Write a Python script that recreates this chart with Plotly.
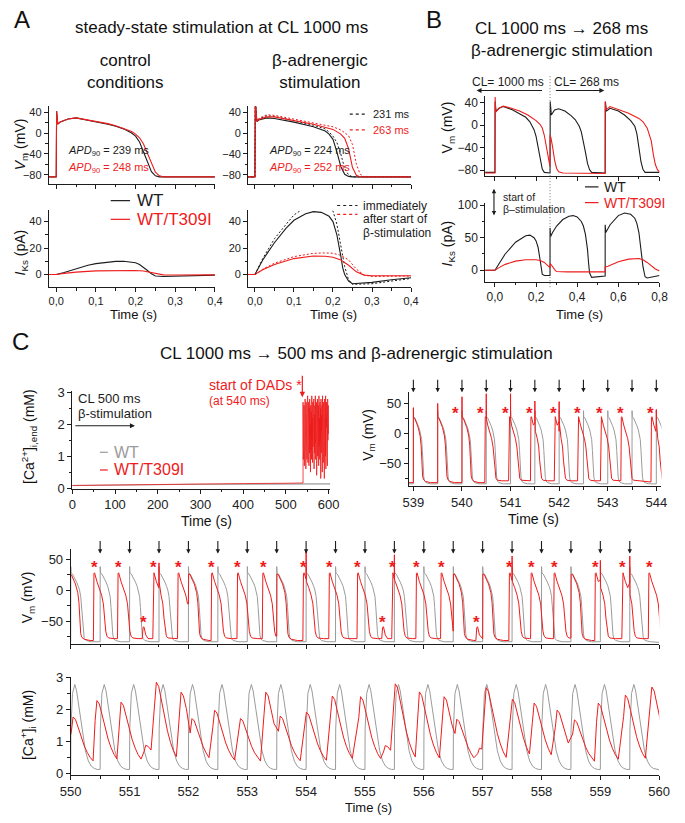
import plotly.graph_objects as go

W, H = 685, 823
FONT = 'Liberation Sans, Arial, sans-serif'
BLACK = '#1c1c1c'
RED = '#ee1c1c'
GRAY = '#9b9b9b'

# ================= Panel A : steady state, CL 1000 ms =================
a_ctl_wt_t = [-0.02, 0.0, 0.001, 0.004, 0.01, 0.03, 0.05, 0.08, 0.10, 0.13, 0.15, 0.17, 0.19, 0.20, 0.21, 0.22, 0.23, 0.24, 0.25, 0.26, 0.40]
a_ctl_wt_v = [-84, -84, 42, 17, 21, 27, 29, 25, 22, 17, 13, 8, 0, -6, -17, -35, -56, -74, -82, -84, -84]
a_ctl_mut_t = [-0.02, 0.0, 0.001, 0.004, 0.01, 0.03, 0.05, 0.08, 0.10, 0.13, 0.15, 0.17, 0.19, 0.20, 0.21, 0.22, 0.23, 0.24, 0.25, 0.26, 0.27, 0.40]
a_ctl_mut_v = [-84, -84, 42, 17, 21, 27, 29, 25, 22, 18, 14, 9, 3, -2, -9, -21, -38, -58, -75, -82, -84, -84]

a_b_wt_t = [-0.02, 0.0, 0.001, 0.005, 0.01, 0.03, 0.05, 0.10, 0.15, 0.18, 0.19, 0.20, 0.21, 0.22, 0.23, 0.24, 0.25, 0.40]
a_b_wt_v = [-84, -84, 60, 22, 25, 29, 28, 21, 12, 4, -2, -12, -36, -64, -79, -83, -84, -84]
a_b_wt0_t = [-0.02, 0.0, 0.001, 0.005, 0.01, 0.03, 0.05, 0.10, 0.15, 0.18, 0.19, 0.20, 0.21, 0.22, 0.23, 0.24, 0.25, 0.40]
a_b_wt0_v = [-84, -84, 60, 23, 27, 33, 32, 24, 15, 8, 2, -6, -18, -40, -68, -80, -84, -84]
a_b_mut_t = [-0.02, 0.0, 0.001, 0.005, 0.01, 0.03, 0.05, 0.10, 0.15, 0.20, 0.22, 0.23, 0.24, 0.25, 0.26, 0.27, 0.40]
a_b_mut_v = [-84, -84, 60, 22, 26, 31, 31, 24, 17, 7, -2, -10, -30, -66, -81, -84, -84]
a_b_mut0_t = [-0.02, 0.0, 0.001, 0.005, 0.01, 0.03, 0.05, 0.10, 0.15, 0.20, 0.22, 0.24, 0.25, 0.26, 0.27, 0.28, 0.40]
a_b_mut0_v = [-84, -84, 60, 23, 28, 35, 34, 27, 20, 12, 6, -5, -22, -60, -79, -84, -84]

a_ik_ctl_wt_t = [-0.02, 0.0, 0.02, 0.05, 0.08, 0.10, 0.13, 0.15, 0.17, 0.19, 0.20, 0.21, 0.22, 0.23, 0.24, 0.25, 0.27, 0.30, 0.35, 0.40]
a_ik_ctl_wt_v = [0, 0, 1.5, 4.5, 7, 8.2, 9.4, 9.9, 10, 9.5, 8.8, 7.5, 5.5, 3, 0.5, -1.2, -1.5, -1.2, -0.8, -0.5]
a_ik_ctl_mut_t = [-0.02, 0.0, 0.02, 0.05, 0.10, 0.15, 0.20, 0.22, 0.24, 0.25, 0.27, 0.30, 0.40]
a_ik_ctl_mut_v = [0, 0, 0.8, 1.8, 2.7, 3.1, 3.0, 2.6, 1.5, 0.5, -0.3, -0.4, -0.3]

a_ik_b_wt_t = [-0.02, 0.0, 0.02, 0.05, 0.08, 0.10, 0.13, 0.15, 0.17, 0.19, 0.20, 0.21, 0.22, 0.225, 0.23, 0.24, 0.25, 0.30, 0.35, 0.40]
a_ik_b_wt_v = [0, 0, 11, 24, 35, 41, 46, 47.5, 47, 44, 40, 30, 14, 5, 0, -5, -7, -6, -4, -2.5]
a_ik_b_wt0_v = [0, 0, 12, 27, 38, 45, 51, 53.5, 54, 52, 48, 38, 22, 13, 6, -4, -7.5, -7, -5, -3]
a_ik_b_mut_t = [-0.02, 0.0, 0.02, 0.05, 0.10, 0.15, 0.18, 0.20, 0.22, 0.24, 0.26, 0.28, 0.30, 0.40]
a_ik_b_mut_v = [0, 0, 3.5, 7.5, 12, 14, 13.8, 13, 11, 7, 2, -0.5, -1, -1]
a_ik_b_mut0_v = [0, 0, 4, 8.5, 13.5, 16, 16.3, 16, 14.5, 11, 4, -0.5, -1.5, -1.2]

# ================= Panel B : CL 1000 -> 268 ms =================
b_wt_t = [-0.05, 0.0, 0.001, 0.005, 0.02, 0.04, 0.08, 0.12, 0.15, 0.17, 0.18, 0.19, 0.20, 0.21, 0.22, 0.23, 0.24, 0.2679, 0.268, 0.269,
          0.274, 0.29, 0.31, 0.34, 0.37, 0.39, 0.40, 0.41, 0.42, 0.43, 0.44, 0.45, 0.46, 0.47, 0.5359, 0.536, 0.537, 0.542, 0.56, 0.60,
          0.63, 0.66, 0.68, 0.69, 0.70, 0.71, 0.72, 0.73, 0.80]
b_wt_v = [-84, -84, 42, 25, 30, 33, 28, 20, 14, 6, 0, -8, -20, -38, -62, -78, -84, -85, -85, 42,
          18, 27, 29, 25, 17, 10, 5, -2, -12, -28, -48, -68, -79, -84, -85, -85, 42, 25, 30, 25,
          18, 8, -2, -15, -40, -65, -79, -84, -84]
b_mut_t = [-0.05, 0.0, 0.001, 0.004, 0.02, 0.04, 0.08, 0.12, 0.16, 0.20, 0.22, 0.23, 0.24, 0.25, 0.26, 0.2679, 0.268, 0.272, 0.28, 0.29,
           0.30, 0.31, 0.33, 0.5359, 0.536, 0.54, 0.56, 0.60, 0.65, 0.70, 0.72, 0.74, 0.76, 0.77, 0.78, 0.79, 0.80]
b_mut_v = [-85, -85, 50, 23, 30, 34, 30, 25, 18, 8, 1, -5, -18, -38, -62, -74, -18, -22, -38, -62,
           -77, -83, -85, -86, 42, 27, 33, 28, 21, 12, 6, -5, -28, -52, -70, -79, -83]
b_ik_wt_t = [-0.05, 0.0, 0.02, 0.05, 0.10, 0.15, 0.17, 0.19, 0.20, 0.21, 0.22, 0.225, 0.23, 0.24, 0.2679, 0.268, 0.271, 0.28, 0.30, 0.33,
             0.36, 0.38, 0.40, 0.42, 0.43, 0.44, 0.45, 0.455, 0.46, 0.47, 0.50, 0.5359, 0.536, 0.539, 0.56, 0.60, 0.63, 0.66, 0.68, 0.69,
             0.70, 0.71, 0.72, 0.73, 0.74, 0.80]
b_ik_wt_v = [0, 0, 10, 25, 43, 53, 54, 50, 45, 35, 15, 3, -6, -8, -8, 65, 52, 58, 68, 78,
             83, 84, 82, 75, 68, 55, 32, 12, -4, -11, -10, -9, 70, 58, 70, 84, 88, 86, 80, 72,
             58, 32, 5, -10, -12, -8]
b_ik_mut_t = [-0.05, 0.0, 0.02, 0.05, 0.10, 0.15, 0.20, 0.22, 0.24, 0.26, 0.2679, 0.268, 0.275, 0.29, 0.30, 0.35, 0.5359, 0.536, 0.55, 0.60,
              0.65, 0.70, 0.72, 0.74, 0.76, 0.78, 0.80]
b_ik_mut_v = [0, 0, 4, 9, 14, 16, 16, 15, 12, 6, 4, 10, 8, 1, -2, -2.5, -2.5, 5, 6, 13,
              17, 18, 16, 12, 7, 2, -1]
b_switch_t = 0.268

# ================= Panel C : CL 500 ms + beta stimulation =================
cae_gray_t = [0, 100, 200, 300, 400, 500, 540, 604]
cae_gray_v = [0.08, 0.10, 0.11, 0.12, 0.12, 0.13, 0.13, 0.13]
cae_red_pre_t = [0, 100, 200, 300, 400, 500, 540]
cae_red_pre_v = [0.08, 0.10, 0.12, 0.13, 0.14, 0.15, 0.16]
cae_red_dad_t0 = 540.0
cae_red_dad_dt = 0.6
cae_red_dad_v = [2.7, 0.9, 2.5, 1.2, 2.6, 0.7, 2.3, 1.5, 2.8, 1.0, 2.4, 0.6, 2.7, 1.3, 2.2, 0.9, 2.6, 1.7, 2.9, 0.8,
                 2.1, 1.4, 2.7, 0.7, 2.5, 1.1, 2.8, 1.6, 2.0, 0.5, 2.6, 1.2, 2.4, 0.9, 2.9, 1.5, 2.2, 0.8, 2.7, 1.3,
                 2.5, 1.8, 2.8, 0.6, 2.3, 1.1, 2.6, 1.4, 2.9, 0.9, 2.1, 1.7, 2.7, 0.4, 2.5, 1.2, 2.8, 1.0, 2.4, 1.6,
                 2.6, 0.7, 2.9, 1.3, 2.2, 0.9, 2.7, 1.5, 2.5, 0.3, 2.8, 1.1, 2.3, 1.8, 2.6, 0.5, 2.9, 1.4, 2.0, 0.8,
                 2.7, 1.2, 2.4, 0.3, 2.8, 1.6, 2.5, 1.0, 2.9, 0.6, 2.2, 1.9, 2.7, 1.1, 2.4, 0.7, 2.8, 1.5, 2.6, 1.7]

# beat shapes (time after onset s, value)
gray_ap_t = [0.0, 0.001, 0.006, 0.03, 0.06, 0.10, 0.13, 0.15, 0.17, 0.185, 0.20, 0.215, 0.23, 0.26, 0.35, 0.50]
gray_ap_v = [-84, 38, 28, 26, 21, 13, 6, 0, -10, -28, -55, -72, -78, -81, -83, -84]
red_dad_t = [0.0, 0.01, 0.02, 0.06, 0.10, 0.14, 0.17, 0.19, 0.21, 0.23, 0.26, 0.35, 0.60]
red_dad_v = [-79, 27, 28, 14, 4, -8, -22, -45, -66, -74, -77, -78, -80]
red_stim_t = [0.0, 0.004, 0.03, 0.06, 0.10, 0.14, 0.16, 0.175, 0.19, 0.21, 0.25, 0.35, 0.50]
red_stim_v = [-82, 26, 25, 18, 10, -4, -20, -45, -70, -76, -79, -81, -82]
red_small_t = [0.0, 0.015, 0.03, 0.06, 0.10]
red_small_v = [-78, -60, -59, -72, -78]
gray_ca_t = [0.0, 0.003, 0.03, 0.07, 0.10, 0.15, 0.20, 0.25, 0.30, 0.35, 0.40, 0.45, 0.50]
gray_ca_v = [0.13, 1.4, 2.5, 2.78, 2.58, 1.95, 1.25, 0.72, 0.40, 0.24, 0.17, 0.14, 0.13]
red_ca_t = [0.03, 0.06, 0.10, 0.15, 0.20, 0.25, 0.30, 0.35, 0.40, 0.50, 0.60]
red_ca_f = [0.70, 1.0, 0.95, 0.78, 0.58, 0.42, 0.29, 0.19, 0.12, 0.06, 0.03]
red_ca_rest = 0.22

# 539-544 s window
w1_gray_on = [538.5, 539.0, 539.5, 540.0, 540.5, 541.0, 541.5, 542.0, 542.5, 543.0, 543.5, 544.0]
w1_red_on = [538.5, 539.0, 539.5, 540.0, 540.47, 540.96, 541.41, 541.90, 542.38, 542.85, 543.27, 543.89]
w1_red_kind = ['stim', 'stim', 'stim', 'stim', 'dad', 'dad', 'dad', 'dad', 'dad', 'dad', 'dad', 'dad']
w1_spike_t = [539.0, 539.5, 540.0, 540.5, 541.0, 541.5, 542.0, 544.0]
w1_spike_peak = [43, 50, 61, 66, 66, 54, 53, 40]
w1_spike_base = [None, None, None, 26, 24, 18, 20, 22]
w1_stim_t = [539.0, 539.5, 540.0, 540.5, 541.0, 541.5, 542.0, 542.5, 543.0, 543.5, 544.0]
w1_star_t = [539.87, 540.39, 540.89, 541.40, 541.89, 542.37, 542.84, 543.26, 543.88]

# 550-560 s window
w2_gray_on = [549.5, 550.0, 550.5, 551.0, 551.5, 552.0, 552.5, 553.0, 553.5, 554.0, 554.5,
              555.0, 555.5, 556.0, 556.5, 557.0, 557.5, 558.0, 558.5, 559.0, 559.5]
w2_red_on = [549.98, 550.385, 550.795, 551.215, 551.395, 551.815, 552.00, 552.385, 552.825, 553.255, 553.50, 553.945, 554.385, 554.865,
             555.285, 555.455, 555.865, 556.285, 556.50, 556.885, 557.00, 557.445, 557.815, 558.205, 558.50, 558.905, 559.365, 559.815]
w2_red_kind = ['stim', 'dad', 'dad', 'small', 'dad', 'dad', 'stim', 'dad', 'dad', 'dad', 'stim', 'dad', 'dad', 'dad',
               'small', 'dad', 'dad', 'dad', 'stim', 'small', 'stim', 'dad', 'dad', 'dad', 'stim', 'dad', 'dad', 'dad']
w2_red_ca_peak = [1.77, 2.28, 2.23, 0.89, 2.85, 2.54, 1.72, 1.98, 1.72, 2.54, 1.80, 1.92, 2.42, 2.40,
                  0.88, 2.80, 2.55, 2.40, 1.70, 0.80, 2.68, 2.32, 2.20, 1.98, 1.68, 2.20, 2.45, 2.70]
w2_spike_t = [551.5, 554.0, 555.5, 557.5, 559.0, 559.5]
w2_spike_peak = [44, 63, 57, 55, 48, 55]
w2_spike_base = [14, 18, 18, 16, 16, 12]
w2_stim_t = [550.5, 551.0, 551.5, 552.0, 552.5, 553.0, 553.5, 554.0, 554.5, 555.0,
             555.5, 556.0, 556.5, 557.0, 557.5, 558.0, 558.5, 559.0, 559.5]
w2_star_t = [550.40, 550.81, 551.23, 551.41, 551.83, 552.40, 552.84, 553.27, 553.96, 554.40, 554.88,
             555.30, 555.47, 555.88, 556.30, 556.90, 557.46, 557.83, 558.22, 558.92, 559.38, 559.83]
w2_star_v = [36, 36, -52, 36, 36, 36, 36, 36, 36, 36, 36, -52, 36, 36, 36, -52, 36, 36, 36, 36, 36, 36]

TPL = {'gray': (gray_ap_t, gray_ap_v), 'dad': (red_dad_t, red_dad_v),
       'stim': (red_stim_t, red_stim_v), 'small': (red_small_t, red_small_v),
       'gca': (gray_ca_t, gray_ca_v)}


def beat_train(onsets, kinds, t_end, spikes=()):
    pts, last = [], None
    for i, (t0, k) in enumerate(zip(onsets, kinds)):
        tt, vv = TPL[k]
        nxt = onsets[i + 1] if i + 1 < len(onsets) else t_end
        if last is not None:
            pts.append((t0, last))
        for a, b in zip(tt, vv):
            if a == 0 and last is not None:
                continue
            if t0 + a < nxt:
                pts.append((t0 + a, b))
                last = b
    for ts, pk, base in spikes:
        if base is None:
            pts.append((ts + 0.0005, pk))
        else:
            pts += [(ts - 0.0004, base), (ts + 0.0002, pk), (ts + 0.0012, base)]
    pts.sort()
    return [p[0] for p in pts], [p[1] for p in pts]


def ca_train(onsets, peaks, t_end, lead):
    pts = [lead]
    for i, (t0, pk) in enumerate(zip(onsets, peaks)):
        nxt = onsets[i + 1] if i + 1 < len(onsets) else t_end
        for a, f in zip(red_ca_t, red_ca_f):
            if t0 + a < nxt:
                pts.append((t0 + a, red_ca_rest + f * (pk - red_ca_rest)))
    return [p[0] for p in pts], [p[1] for p in pts]


fig = go.Figure()


def add(x, y, ax, color, width=1.1, dash=None):
    fig.add_trace(go.Scatter(x=x, y=y, xaxis='x' + ax, yaxis='y' + ax, mode='lines',
                             line=dict(color=color, width=width, dash=dash),
                             showlegend=False, hoverinfo='skip'))


DOT = '2px,2px'
# A
add(a_ctl_wt_t, a_ctl_wt_v, '', BLACK)
add(a_ctl_mut_t, a_ctl_mut_v, '', RED)
add(a_ik_ctl_wt_t, a_ik_ctl_wt_v, '2', BLACK)
add(a_ik_ctl_mut_t, a_ik_ctl_mut_v, '2', RED)
add(a_b_wt0_t, a_b_wt0_v, '3', BLACK, 1.0, DOT)
add(a_b_mut0_t, a_b_mut0_v, '3', RED, 1.0, DOT)
add(a_b_wt_t, a_b_wt_v, '3', BLACK)
add(a_b_mut_t, a_b_mut_v, '3', RED)
add(a_ik_b_wt_t, a_ik_b_wt0_v, '4', BLACK, 1.0, DOT)
add(a_ik_b_mut_t, a_ik_b_mut0_v, '4', RED, 1.0, DOT)
add(a_ik_b_wt_t, a_ik_b_wt_v, '4', BLACK)
add(a_ik_b_mut_t, a_ik_b_mut_v, '4', RED)
# B
add(b_wt_t, b_wt_v, '5', BLACK)
add(b_mut_t, b_mut_v, '5', RED)
add(b_ik_wt_t, b_ik_wt_v, '6', BLACK)
add(b_ik_mut_t, b_ik_mut_v, '6', RED)
# C : Ca end
add(cae_gray_t, cae_gray_v, '7', GRAY)
dad_t = [cae_red_dad_t0 + i * cae_red_dad_dt for i in range(len(cae_red_dad_v))]
add(cae_red_pre_t + dad_t, cae_red_pre_v + cae_red_dad_v, '7', RED, 0.8)
# C : 539-544
gx, gy = beat_train(w1_gray_on, ['gray'] * len(w1_gray_on), 544.2)
add(gx, gy, '8', GRAY, 1.0)
rx, ry = beat_train(w1_red_on, w1_red_kind, 544.2, list(zip(w1_spike_t, w1_spike_peak, w1_spike_base)))
add(rx, ry, '8', RED, 1.0)
# C : 550-560 Vm
gx, gy = beat_train(w2_gray_on, ['gray'] * len(w2_gray_on), 560.2)
add(gx, gy, '9', GRAY, 1.0)
rx, ry = beat_train(w2_red_on, w2_red_kind, 560.2, list(zip(w2_spike_t, w2_spike_peak, w2_spike_base)))
add(rx, ry, '9', RED, 1.0)
# C : 550-560 Ca
gx, gy = beat_train(w2_gray_on, ['gca'] * len(w2_gray_on), 560.2)
add(gx, gy, '10', GRAY, 1.0)
rx, ry = ca_train(w2_red_on, w2_red_ca_peak, 560.2, (549.9, 0.45))
add(rx, ry, '10', RED, 1.0)


def xax(n, px0, px1, rng, dtick, minor, labels=True, size=11, fmt=None, tick0=0):
    d = dict(domain=[px0 / W, px1 / W], range=rng, showline=True, linecolor=BLACK, linewidth=1,
             ticks='outside', ticklen=4, tickwidth=1, tickcolor=BLACK, showgrid=False, zeroline=False,
             tickmode='linear', tick0=tick0, dtick=dtick, showticklabels=labels,
             tickfont=dict(family=FONT, size=size, color='#222'),
             minor=dict(dtick=minor, tick0=tick0, ticks='outside', ticklen=2.5, tickcolor=BLACK, showgrid=False),
             anchor='y' + n, fixedrange=True)
    if fmt:
        d['tickformat'] = fmt
    return d


def yax(n, pytop, pybot, rng, dtick, minor, size=11, tick0=0):
    return dict(domain=[1 - pybot / H, 1 - pytop / H], range=rng, showline=True, linecolor=BLACK, linewidth=1,
                ticks='outside', ticklen=4, tickwidth=1, tickcolor=BLACK, showgrid=False, zeroline=False,
                tickmode='linear', tick0=tick0, dtick=dtick,
                tickfont=dict(family=FONT, size=size, color='#222'),
                minor=dict(dtick=minor, tick0=tick0, ticks='outside', ticklen=2.5, tickcolor=BLACK, showgrid=False),
                anchor='x' + n, fixedrange=True)


lay = dict(width=W, height=H, margin=dict(l=0, r=0, t=0, b=0), paper_bgcolor='white',
           plot_bgcolor='white', showlegend=False, separators=', ', font=dict(family=FONT))
lay['xaxis'] = xax('', 39, 210.7, [-0.0188, 0.4], 0.1, 0.05, labels=False)
lay['yaxis'] = yax('', 101, 180, [-97.5, 51.3], 40, 20)
lay['yaxis']['anchor'] = 'x'
lay['xaxis']['anchor'] = 'y'
lay['xaxis2'] = xax('2', 39, 210.7, [-0.0188, 0.4], 0.1, 0.05, fmt='.1f')
lay['yaxis2'] = yax('2', 207, 285, [-9.6, 48.4], 20, 10)
lay['xaxis3'] = xax('3', 245, 413.3, [-0.0174, 0.4], 0.1, 0.05, labels=False)
lay['yaxis3'] = yax('3', 101, 180, [-97.5, 51.3], 40, 20)
lay['xaxis4'] = xax('4', 245, 413.3, [-0.0174, 0.4], 0.1, 0.05, fmt='.1f')
lay['yaxis4'] = yax('4', 207, 285, [-9.6, 48.4], 20, 10)
lay['xaxis5'] = xax('5', 490, 670, [-0.047, 0.8], 0.2, 0.1, labels=False, size=12)
lay['yaxis5'] = yax('5', 90.7, 171.7, [-90, 51.5], 40, 20, size=12)
lay['xaxis6'] = xax('6', 490, 670, [-0.047, 0.8], 0.2, 0.1, size=12, fmt='.1f')
lay['yaxis6'] = yax('6', 199.3, 279.3, [-17.4, 103.5], 50, 25, size=12)
lay['xaxis7'] = xax('7', 63.3, 330, [0, 604], 100, 50, size=13)
lay['yaxis7'] = yax('7', 390.7, 490, [-0.02, 3.05], 1, 0.5, size=13)
lay['xaxis8'] = xax('8', 411, 672, [538.906, 544.105], 1, 0.5, size=13)
lay['yaxis8'] = yax('8', 391.7, 487.3, [-86.6, 68.8], 50, 25, size=13)
lay['xaxis9'] = xax('9', 61.7, 669.7, [550, 560], 1, 0.5, labels=False, size=13)
lay['yaxis9'] = yax('9', 551.7, 648, [-86.6, 65.8], 50, 25, size=13)
lay['xaxis10'] = xax('10', 61.7, 669.7, [550, 560], 1, 0.5, size=13)
lay['yaxis10'] = yax('10', 682, 781.5, [-0.04, 3.0], 1, 0.5, size=13)
fig.update_layout(**lay)


def txt(px, py, s, size=12, color='#111', xa='center', ya='middle', angle=0):
    fig.add_annotation(x=px / W, y=1 - py / H, xref='paper', yref='paper', text=s, showarrow=False,
                       font=dict(family=FONT, size=size, color=color), xanchor=xa, yanchor=ya,
                       textangle=angle)


def seg(x0, y0, x1, y1, color, dash=None, width=1.2):
    fig.add_shape(type='line', xref='paper', yref='paper', x0=x0 / W, x1=x1 / W, y0=1 - y0 / H,
                  y1=1 - y1 / H, line=dict(color=color, width=width, dash=dash))


def arrow(tipx, tipy, tailx, taily, color=BLACK, both=False, width=1.1, size=0.9):
    fig.add_annotation(x=tipx / W, y=1 - tipy / H, xref='paper', yref='paper', ax=tailx - tipx,
                       ay=taily - tipy, text='', showarrow=True, arrowhead=2, arrowsize=size,
                       arrowwidth=width, arrowcolor=color, arrowside='end+start' if both else 'end')


# panel letters and titles
txt(11, 13, 'A', 24)
txt(437, 13, 'B', 24)
txt(10, 340, 'C', 24)
txt(217, 21, 'steady-state stimulation at CL 1000 ms', 17)
txt(118, 66, 'control<br>conditions', 17)
txt(319, 66, 'β-adrenergic<br>stimulation', 17)
txt(569, 22, 'CL 1000 ms → 268 ms', 17)
txt(569, 44, 'β-adrenergic stimulation', 17)
txt(357, 353, 'CL 1000 ms → 500 ms and β-adrenergic stimulation', 17)

# axis titles
txt(10, 140, '<i>V</i><sub>m</sub> (mV)', 14, angle=-90)
txt(10, 250, '<i>I</i><sub>Ks</sub> (pA)', 14, angle=-90)
txt(127, 313, 'Time (s)', 13)
txt(333, 313, 'Time (s)', 13)
txt(451, 123, 'V<sub>m</sub> (mV)', 14, angle=-90)
txt(451, 241, '<i>I</i><sub>Ks</sub> (pA)', 14, angle=-90)
txt(587, 313, 'Time (s)', 13)
txt(18, 437, '[Ca<sup>2+</sup>]<sub>i,end</sub> (mM)', 14, angle=-90)
txt(202, 523, 'Time (s)', 14)
txt(369, 435, 'V<sub>m</sub> (mV)', 14, angle=-90)
txt(540, 521, 'Time (s)', 14)
txt(17, 600, 'V<sub>m</sub> (mV)', 14, angle=-90)
txt(17, 730, '[Ca<sup>+</sup>]<sub>i</sub> (mM)', 14, angle=-90)
txt(369, 814, 'Time (s)', 13)

# panel A labels / legend
txt(57, 147, '<i>APD</i><sub>90</sub> = 239 ms', 11, BLACK, 'left')
txt(57, 164, '<i>APD</i><sub>90</sub> = 248 ms', 11, RED, 'left')
txt(265, 147, '<i>APD</i><sub>90</sub> = 224 ms', 11, BLACK, 'left')
txt(265, 164, '<i>APD</i><sub>90</sub> = 252 ms', 11, RED, 'left')
seg(350, 109, 367, 109, BLACK, 'dot', 1.1)
txt(372, 109, '231 ms', 11, BLACK, 'left')
seg(350, 125, 367, 125, RED, 'dot', 1.1)
txt(372, 125, '263 ms', 11, RED, 'left')
seg(337, 202, 358, 202, BLACK, 'dot', 1.1)
seg(337, 211, 358, 211, RED, 'dot', 1.1)
txt(362, 202, 'immediately', 12, BLACK, 'left')
txt(362, 216, 'after start of', 12, BLACK, 'left')
txt(362, 230, 'β-stimulation', 12, BLACK, 'left')
seg(103, 197, 123, 197, BLACK)
txt(128, 197, 'WT', 17, BLACK, 'left')
seg(103, 216, 123, 216, RED)
txt(128, 216, 'WT/T309I', 17, RED, 'left')

# panel B labels
txt(514, 76, 'CL= 1000 ms', 12, BLACK)
arrow(481, 85, 548, 85)
txt(595, 76, 'CL= 268 ms', 12, BLACK)
arrow(613, 85, 563, 85)
fig.add_shape(type='line', xref='x5', yref='paper', x0=b_switch_t, x1=b_switch_t, y0=1 - 285 / H,
              y1=1 - 70 / H, line=dict(color='#777', width=1, dash='1px,2px'))
txt(506, 193, 'start of', 10.5, BLACK, 'left')
txt(506, 205, 'β–stimulation', 10.5, BLACK, 'left')
arrow(499, 185, 499, 213, both=True, size=0.8)
seg(593, 183, 607, 183, BLACK)
txt(611, 183, 'WT', 14, BLACK, 'left')
seg(593, 199, 607, 199, RED)
txt(611, 199, 'WT/T309I', 14, RED, 'left')

# panel C labels
txt(67, 398, 'CL 500 ms', 13, BLACK, 'left')
txt(67, 414, 'β-stimulation', 13, BLACK, 'left')
arrow(128, 426, 67, 426)
txt(203, 385, 'start of DADs *', 14, RED, 'left')
txt(203, 401, '(at 540 ms)', 12, RED, 'left')
arrow(301, 397, 301, 374, RED, width=1.2)
seg(92, 453, 100, 453, GRAY)
txt(104, 453, 'WT', 16, GRAY, 'left')
seg(92, 471, 100, 471, RED)
txt(104, 471, 'WT/T309I', 16, RED, 'left')

# stimulus arrows and DAD stars
for t in w1_stim_t:
    fig.add_annotation(x=t, y=1 - 392 / H, xref='x8', yref='paper', ax=0, ay=-14, text='', showarrow=True,
                       arrowhead=2, arrowsize=0.8, arrowwidth=1.1, arrowcolor=BLACK)
for t in w2_stim_t:
    fig.add_annotation(x=t, y=1 - 556 / H, xref='x9', yref='paper', ax=0, ay=-14, text='', showarrow=True,
                       arrowhead=2, arrowsize=0.8, arrowwidth=1.1, arrowcolor=BLACK)
for t in w1_star_t:
    fig.add_annotation(x=t, y=34, xref='x8', yref='y8', text='<b>*</b>', showarrow=False,
                       font=dict(family=FONT, size=17, color=RED), yanchor='middle')
for t, v in zip(w2_star_t, w2_star_v):
    fig.add_annotation(x=t, y=v, xref='x9', yref='y9', text='<b>*</b>', showarrow=False,
                       font=dict(family=FONT, size=17, color=RED), yanchor='middle')

fig.write_html('out.html', config={'displayModeBar': False},
               post_script="document.body.style.margin='0';document.body.style.overflow='hidden';")
